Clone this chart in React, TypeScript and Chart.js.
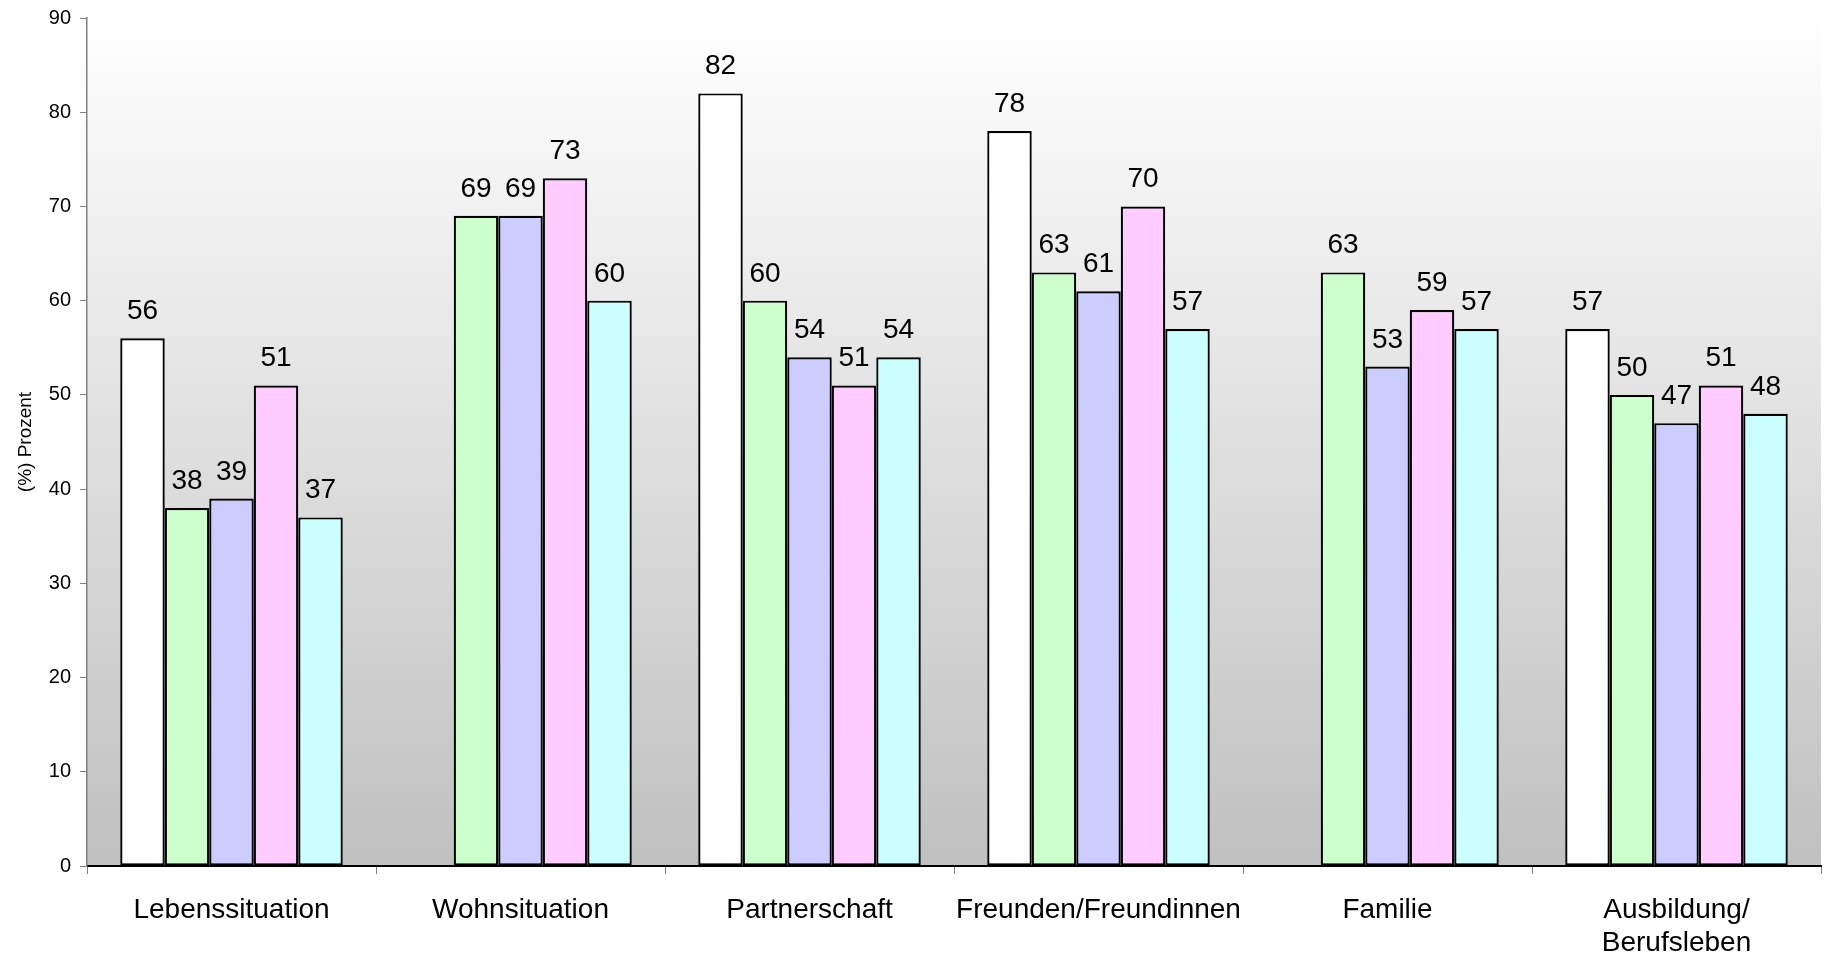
import React, { useEffect, useRef } from "react";
import { Chart, registerables } from "chart.js";

Chart.register(...registerables);

const categories: (string | string[])[] = [
  "Lebenssituation",
  "Wohnsituation",
  "Partnerschaft",
  "Freunden/Freundinnen",
  "Familie",
  ["Ausbildung/", "Berufsleben"],
];

const series1: (number | null)[] = [56, null, 82, 78, null, 57];
const series2: (number | null)[] = [38, 69, 60, 63, 63, 50];
const series3: (number | null)[] = [39, 69, 54, 61, 53, 47];
const series4: (number | null)[] = [51, 73, 51, 70, 59, 51];
const series5: (number | null)[] = [37, 60, 54, 57, 57, 48];

const seriesNames = ["Gruppe 1", "Gruppe 2", "Gruppe 3", "Gruppe 4", "Gruppe 5"];
const seriesColors = ["#FFFFFF", "#CCFFCC", "#CCCCFF", "#FFCCFF", "#CCFFFF"];

const yTitle = "(%) Prozent";
const yMin = 0;
const yMax = 90;
const yStep = 10;

const FONT = "'Liberation Sans', Arial, sans-serif";

const bgPlugin = {
  id: "bgGradient",
  beforeDraw(chart: any) {
    const { ctx, chartArea } = chart;
    if (!chartArea) return;
    const g = ctx.createLinearGradient(0, chartArea.top, 0, chartArea.bottom);
    g.addColorStop(0, "#FFFFFF");
    g.addColorStop(1, "#C0C0C0");
    ctx.save();
    ctx.fillStyle = g;
    ctx.fillRect(chartArea.left, chartArea.top, chartArea.right - chartArea.left, chartArea.bottom - chartArea.top);
    ctx.restore();
  },
};

const labelPlugin = {
  id: "valueLabels",
  afterDatasetsDraw(chart: any) {
    const { ctx } = chart;
    ctx.save();
    ctx.font = `28px ${FONT}`;
    ctx.fillStyle = "#000000";
    ctx.textAlign = "center";
    ctx.textBaseline = "alphabetic";
    chart.data.datasets.forEach((ds: any, i: number) => {
      const meta = chart.getDatasetMeta(i);
      meta.data.forEach((el: any, j: number) => {
        const v = ds.data[j];
        if (v === null || v === undefined) return;
        ctx.fillText(String(v), el.x, el.y - 19);
      });
    });
    ctx.restore();
  },
};

export default function App() {
  const ref = useRef<HTMLCanvasElement | null>(null);

  useEffect(() => {
    if (!ref.current) return;
    const all = [series1, series2, series3, series4, series5];
    const chart = new Chart(ref.current, {
      type: "bar",
      data: {
        labels: categories as any,
        datasets: all.map((d, i) => ({
          label: seriesNames[i],
          data: d,
          backgroundColor: seriesColors[i],
          borderColor: "#000000",
          borderWidth: 2.2,
          borderSkipped: false,
          categoryPercentage: 0.77,
          barPercentage: 1.0,
        })),
      },
      options: {
        responsive: false,
        animation: false,
        maintainAspectRatio: false,
        layout: { padding: { left: 0, right: 8, top: 18, bottom: 0 } },
        plugins: {
          legend: { display: false },
          tooltip: { enabled: false },
        },
        scales: {
          x: {
            offset: true,
            grid: {
              offset: true,
              drawOnChartArea: false,
              drawTicks: true,
              tickLength: 8,
              color: "#808080",
              lineWidth: 1,
            },
            border: { display: true, color: "#000000", width: 2 },
            ticks: {
              font: { family: FONT, size: 28 },
              color: "#000000",
              padding: 19,
              maxRotation: 0,
              autoSkip: false,
            },
            afterFit(scale: any) {
              scale.height = 90;
            },
          },
          y: {
            min: yMin,
            max: yMax,
            grid: {
              drawOnChartArea: false,
              drawTicks: true,
              tickLength: 7,
              color: "#808080",
            },
            border: { display: true, color: "#808080", width: 1.5 },
            ticks: {
              stepSize: yStep,
              font: { family: FONT, size: 20 },
              color: "#000000",
              padding: 9,
            },
            title: {
              display: true,
              text: yTitle,
              font: { family: FONT, size: 19 },
              color: "#000000",
              padding: { top: 14, bottom: 0 },
            },
            afterFit(scale: any) {
              scale.width = 87;
              scale.paddingTop = 0;
              scale.paddingBottom = 0;
            },
          },
        },
      },
      plugins: [bgPlugin, labelPlugin],
    });
    return () => chart.destroy();
  }, []);

  return (
    <div style={{ position: "fixed", left: 0, top: 0, width: 1829, height: 956, background: "#FFFFFF" }}>
      <canvas ref={ref} width={1829} height={956} style={{ width: 1829, height: 956, display: "block" }} />
    </div>
  );
}
